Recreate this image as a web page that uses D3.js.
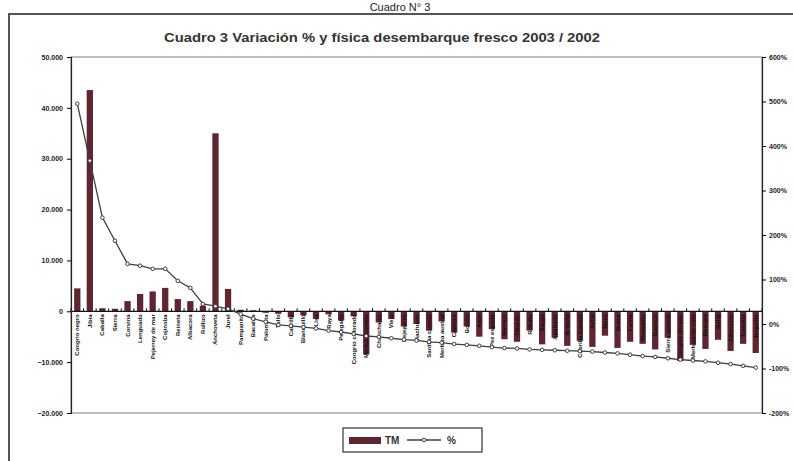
<!DOCTYPE html>
<html>
<head>
<meta charset="utf-8">
<script src="https://cdn.jsdelivr.net/npm/d3@7"></script>
<style>
body { margin: 0; background: #fff; }
svg { font-family: "Liberation Sans", Arial, sans-serif; }
</style>
</head>
<body>
<div id="chart"></div>
<script>
// especies (etiquetas de categoria)
var species = ["Congrio negro", "Jibia", "Caballa", "Sierra", "Corvina", "Lenguado", "Pejerrey de mar",
	"Cojinoba", "Reineta", "Albacora", "Rollizo", "Anchoveta", "Jurel", "Pampanito", "Bacalao",
	"Palometa", "Tollo", "Cabrilla", "Blanquillo", "Lisa", "Raya", "Pejegallo", "Congrio colorado",
	"Merluza común", "Chancharro", "Vieja", "Pejeperro", "Machuelo", "Sardina común", "Merluza austral",
	"Cabinza", "Bonito", "Atún", "Pez espada", "Marrajo", "Tiburón", "Róbalo", "Sargo", "Apañado",
	"Brótula", "Cabrilla común", "Acha", "Mero", "Breca", "Lorna", "Pintadilla", "Baunco",
	"Sierra austral", "Congrio dorado", "Merluza de cola", "Besugo", "Reloj", "Alfonsino", "Tomollo", "Jerguilla"];

// variacion fisica (toneladas)
var tm = [4500, 43500, 600, 500, 2000, 3400, 3900, 4600, 2400, 2000, 1100, 35000, 4400, 300, 200,
	-300, -500, -1200, -800, -1500, -600, -1800, -1000, -8500, -2200, -1500, -3000, -2500, -3800, -2000,
	-4200, -3000, -5000, -3500, -5500, -6000, -3800, -6500, -5200, -6800, -5800, -7000, -4800, -7200, -6000,
	-6400, -7500, -5200, -9800, -6600, -7400, -5600, -7800, -6400, -8200];

// variacion porcentual
var pct = [495, 367, 239, 187, 135, 131, 124, 124, 97, 81, 45, 40, 34, 22, 12,
	5, -2, -4, -7, -10, -15, -18, -22, -27, -29, -32, -35, -37, -40, -42,
	-45, -47, -49, -52, -54, -55, -57, -58, -59, -60, -61, -62, -64, -66, -69,
	-72, -74, -77, -80, -82, -84, -87, -90, -94, -98];

var leftTicks = [50000, 40000, 30000, 20000, 10000, 0, -10000, -20000];
var rightTicks = [600, 500, 400, 300, 200, 100, 0, -100, -200];

var svgWidth = 793, svgHeight = 461;
var margin = { top: 57, right: 31, bottom: 48, left: 71 };
var width = svgWidth - margin.left - margin.right;
var height = svgHeight - margin.top - margin.bottom;

var data = species.map((s, i) => ({ name: s, tm: tm[i], pct: pct[i] }));

var svg = d3.select("#chart").append("svg")
	.attr("width", svgWidth)
	.attr("height", svgHeight);

svg.append("rect").attr("width", svgWidth).attr("height", svgHeight).attr("fill", "#fff");

// titulo de la pagina arriba
svg.append("text")
	.attr("x", 400).attr("y", 11)
	.attr("text-anchor", "middle")
	.style("font-size", "11px")
	.attr("fill", "#222")
	.text("Cuadro N° 3");

// marco exterior
svg.append("path")
	.attr("d", "M9,461 L9,14 L793,14")
	.attr("fill", "none")
	.attr("stroke", "#555")
	.attr("stroke-width", 2);

svg.append("text")
	.attr("x", 382).attr("y", 42)
	.attr("text-anchor", "middle")
	.attr("textLength", 436)
	.attr("lengthAdjust", "spacingAndGlyphs")
	.style("font-family", "'Liberation Sans Narrow', 'Liberation Sans', Arial, sans-serif")
	.style("font-size", "13px")
	.style("font-weight", "bold")
	.attr("fill", "#333")
	.text("Cuadro 3 Variación % y física desembarque fresco 2003 / 2002");

var chartGroup = svg.append("g")
	.attr("transform", `translate(${margin.left}, ${margin.top})`);

var xScale = d3.scaleBand()
	.domain(species)
	.range([0, width])
	.paddingInner(0.5)
	.paddingOuter(0.25);

var yLeft = d3.scaleLinear().domain([-20000, 50000]).range([height, 0]);
var yRight = d3.scaleLinear().domain([-200, 600]).range([height, 0]);

// area de trazado
chartGroup.append("rect")
	.attr("width", width).attr("height", height)
	.attr("fill", "none")
	.attr("stroke", "#aaa")
	.attr("stroke-width", 1.5);

// barras TM
chartGroup.append("g").selectAll("rect")
	.data(data)
	.enter()
	.append("rect")
	.attr("x", d => xScale(d.name))
	.attr("width", xScale.bandwidth())
	.attr("y", d => yLeft(Math.max(0, d.tm)))
	.attr("height", d => Math.abs(yLeft(d.tm) - yLeft(0)))
	.attr("fill", "#5f2531");

// etiquetas de categoria (verticales)
chartGroup.append("g").selectAll("text")
	.data(data)
	.enter()
	.append("text")
	.attr("transform", d => `translate(${xScale(d.name) + xScale.bandwidth() / 2 + 2}, ${yLeft(0) + 3}) rotate(-90)`)
	.attr("text-anchor", "end")
	.style("font-size", "6px")
	.style("font-weight", "bold")
	.attr("fill", "#111")
	.text(d => d.name);

// eje de categorias en cero
chartGroup.append("line")
	.attr("x1", 0).attr("x2", width)
	.attr("y1", yLeft(0)).attr("y2", yLeft(0))
	.attr("stroke", "#111").attr("stroke-width", 1.2);
chartGroup.append("g").selectAll("line")
	.data(d3.range(species.length + 1))
	.enter()
	.append("line")
	.attr("x1", i => i * width / species.length)
	.attr("x2", i => i * width / species.length)
	.attr("y1", yLeft(0) - 3)
	.attr("y2", yLeft(0))
	.attr("stroke", "#111");

// linea %
var drawLine = d3.line()
	.x(d => xScale(d.name) + xScale.bandwidth() / 2)
	.y(d => yRight(d.pct));

chartGroup.append("path")
	.datum(data)
	.attr("d", drawLine)
	.attr("fill", "none")
	.attr("stroke", "#3a3f44")
	.attr("stroke-width", 1.3);

chartGroup.append("g").selectAll("circle")
	.data(data)
	.enter()
	.append("circle")
	.attr("cx", d => xScale(d.name) + xScale.bandwidth() / 2)
	.attr("cy", d => yRight(d.pct))
	.attr("r", 1.8)
	.attr("fill", "#fff")
	.attr("stroke", "#3a3f44")
	.attr("stroke-width", 1);

// ejes
var leftAxis = d3.axisLeft(yLeft)
	.tickValues(leftTicks)
	.tickSize(4)
	.tickPadding(4)
	.tickFormat(d => d == 0 ? "0" : d3.format(",")(d).replace(/,/g, ".").replace("-", "- "));

chartGroup.append("g")
	.call(leftAxis)
	.call(g => g.select(".domain").attr("stroke", "#222").attr("stroke-width", 1.2))
	.call(g => g.selectAll("text").style("font-size", "7px").style("font-weight", "bold").attr("fill", "#222"));

var rightAxis = d3.axisRight(yRight)
	.tickValues(rightTicks)
	.tickSize(4)
	.tickFormat(d => d + "%");

chartGroup.append("g")
	.attr("transform", `translate(${width}, 0)`)
	.call(rightAxis)
	.call(g => g.select(".domain").attr("stroke", "#222").attr("stroke-width", 1.2))
	.call(g => g.selectAll("text").style("font-size", "7px").style("font-weight", "bold").attr("fill", "#222"));

// leyenda
var legend = svg.append("g").attr("transform", "translate(343, 428)");
legend.append("rect")
	.attr("width", 139).attr("height", 24)
	.attr("fill", "#fff")
	.attr("stroke", "#444")
	.attr("stroke-width", 1.3);
legend.append("rect")
	.attr("x", 6).attr("y", 9).attr("width", 32).attr("height", 7)
	.attr("fill", "#5f2531");
legend.append("text")
	.attr("x", 42).attr("y", 16)
	.style("font-size", "10px").style("font-weight", "bold")
	.attr("fill", "#333")
	.text("TM");
legend.append("line")
	.attr("x1", 64).attr("x2", 98).attr("y1", 12).attr("y2", 12)
	.attr("stroke", "#3a3f44").attr("stroke-width", 1.3);
legend.append("circle")
	.attr("cx", 81).attr("cy", 12).attr("r", 1.8)
	.attr("fill", "#fff").attr("stroke", "#3a3f44");
legend.append("text")
	.attr("x", 104).attr("y", 16)
	.style("font-size", "10px").style("font-weight", "bold")
	.attr("fill", "#333")
	.text("%");
</script>
</body>
</html>
